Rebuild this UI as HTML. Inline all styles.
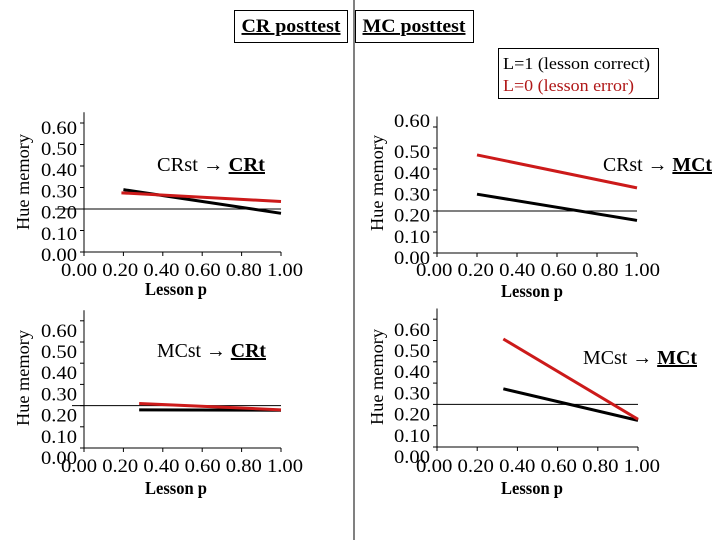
<!DOCTYPE html>
<html><head><meta charset="utf-8"><style>
html,body{margin:0;padding:0;background:#fff;}
svg{display:block;font-family:"Liberation Serif",serif;}
</style></head><body>
<svg id="chart" width="720" height="540" viewBox="0 0 720 540">
  <line x1="354" y1="0" x2="354" y2="540" stroke="#000" stroke-width="1"/>
  <g>
    <rect x="234.5" y="10.5" width="113" height="32" fill="#fff" stroke="#000"/>
    <text x="291" y="32" text-anchor="middle" font-size="19" font-weight="bold" text-decoration="underline" textLength="99" lengthAdjust="spacingAndGlyphs">CR posttest</text>
  </g>
  <g>
    <rect x="355.5" y="10.5" width="118" height="32" fill="#fff" stroke="#000"/>
    <text x="414" y="32" text-anchor="middle" font-size="19" font-weight="bold" text-decoration="underline" textLength="103" lengthAdjust="spacingAndGlyphs">MC posttest</text>
  </g>
  <g>
    <rect x="498.5" y="48.5" width="160" height="50" fill="#fff" stroke="#000"/>
    <text x="503" y="69" font-size="17" fill="#000" textLength="147" lengthAdjust="spacingAndGlyphs">L=1 (lesson correct)</text>
    <text x="503" y="91" font-size="17" fill="#b01818" textLength="131" lengthAdjust="spacingAndGlyphs">L=0 (lesson error)</text>
  </g>
  <g id="panels"></g>
</svg>
<script>
const yTickLabels = ["0.00","0.10","0.20","0.30","0.40","0.50","0.60"];
const xTickLabels = ["0.00","0.20","0.40","0.60","0.80","1.00"];
const refValue = 0.2;
// panel: CRst -> CRt
const tlBlackP = [0.20, 1.00];
const tlBlackV = [0.29, 0.18];
const tlRedP = [0.19, 1.00];
const tlRedV = [0.275, 0.235];
// panel: CRst -> MCt
const trBlackP = [0.20, 1.00];
const trBlackV = [0.28, 0.155];
const trRedP = [0.20, 1.00];
const trRedV = [0.467, 0.31];
// panel: MCst -> CRt
const blBlackP = [0.28, 1.00];
const blBlackV = [0.18, 0.178];
const blRedP = [0.28, 1.00];
const blRedV = [0.21, 0.18];
// panel: MCst -> MCt
const brBlackP = [0.33, 1.00];
const brBlackV = [0.273, 0.125];
const brRedP = [0.33, 1.00];
const brRedV = [0.507, 0.13];

const NS = "http://www.w3.org/2000/svg";
const root = document.getElementById("panels");
function mk(tag, attrs, parent) {
  const e = document.createElementNS(NS, tag);
  for (const k in attrs) e.setAttribute(k, attrs[k]);
  parent.appendChild(e);
  return e;
}
const panels = [
  {id:"cr-to-cr", x0:84, x1:281, y0:252, s:215, lblY0:255, lblStep:21.2, axL:77, hueX:27, titleMain:"CRst → ", titleU:"CRt", tx:157, ty:171, tw:108, xl:61, xr:303, xly:276, lpy:295, hx:55, bp:tlBlackP, bv:tlBlackV, rp:tlRedP, rv:tlRedV},
  {id:"cr-to-mc", x0:437, x1:637, y0:253, s:210, lblY0:258, lblStep:21.2, axL:430, hueX:381, titleMain:"CRst → ", titleU:"MCt", tx:603, ty:171, tw:109, xl:416, xr:660, xly:276, lpy:297, hx:437, bp:trBlackP, bv:trBlackV, rp:trRedP, rv:trRedV, top:121},
  {id:"mc-to-cr", x0:84, x1:281, y0:448, s:212, lblY0:458, lblStep:21.2, axL:77, hueX:27, titleMain:"MCst → ", titleU:"CRt", tx:157, ty:357, tw:109, xl:61, xr:303, xly:472, lpy:494, hx:72, bp:blBlackP, bv:blBlackV, rp:blRedP, rv:blRedV},
  {id:"mc-to-mc", x0:437, x1:638, y0:447, s:213, lblY0:457, lblStep:21.2, axL:430, hueX:381, titleMain:"MCst → ", titleU:"MCt", tx:583, ty:364, tw:114, xl:416, xr:660, xly:472, lpy:494, hx:437, bp:brBlackP, bv:brBlackV, rp:brRedP, rv:brRedV}
];
panels.forEach(p => {
  const g = mk("g", {}, root);
  
  
  const X = v => p.x0 + v * (p.x1 - p.x0);
  const Y = v => p.y0 - v * p.s;
  const ya = mk("line", {x1:p.x0, y1:Y(0.65), x2:p.x0, y2:p.y0, stroke:"#000", "stroke-width":1}, g);
  
  
  const xa = mk("line", {x1:p.x0, y1:p.y0, x2:p.x1, y2:p.y0, stroke:"#000", "stroke-width":1}, g);
  
  
  xTickLabels.forEach((t, i) => {
    const xx = X(i / (xTickLabels.length - 1));
    const tk = mk("line", {x1:xx, y1:p.y0, x2:xx, y2:p.y0 + 4, stroke:"#000"}, g);
    
    
  });
  yTickLabels.forEach((t, i) => {
    const yy = (p.top && i === 6) ? p.top : p.lblY0 - i * p.lblStep;
    const tx = mk("text", {x:p.axL, y:yy + 6, "text-anchor":"end", "font-size":19, textLength:36, lengthAdjust:"spacingAndGlyphs"}, g);
    tx.textContent = t;
    
    
    const tk = mk("line", {x1:p.x0 - 4, y1:Y(parseFloat(t)), x2:p.x0, y2:Y(parseFloat(t)), stroke:"#000"}, g);
    
    
  });
  const xt = mk("text", {x:p.xl, y:p.xly, "font-size":19, textLength:p.xr - p.xl, lengthAdjust:"spacingAndGlyphs"}, g);
  xt.textContent = xTickLabels.join(" ");
  
  
  const xlab = mk("text", {x:(p.xl + p.xr) / 2 - 6, y:p.lpy, "text-anchor":"middle", "font-size":18, "font-weight":"bold", textLength:62, lengthAdjust:"spacingAndGlyphs"}, g);
  xlab.textContent = "Lesson p";
  
  
  const yc = p.y0 - 70;
  const ylab = mk("text", {x:p.hueX + 2, y:yc, "text-anchor":"middle", "font-size":18, textLength:96, lengthAdjust:"spacingAndGlyphs", transform:"rotate(-90 " + (p.hueX + 2) + " " + yc + ")"}, g);
  ylab.textContent = "Hue memory";
  
  
  const rl = mk("line", {x1:p.hx, y1:Y(refValue), x2:p.x1, y2:Y(refValue), stroke:"#000", "stroke-width":1}, g);
  
  
  const tt = mk("text", {x:p.tx, y:p.ty, "font-size":20, textLength:p.tw, lengthAdjust:"spacingAndGlyphs"}, g);
  
  
  const t1 = mk("tspan", {}, tt); t1.textContent = p.titleMain;
  const t2 = mk("tspan", {"font-weight":"bold", "text-decoration":"underline"}, tt); t2.textContent = p.titleU;
  const bl = mk("line", {x1:X(p.bp[0]), y1:Y(p.bv[0]), x2:X(p.bp[1]), y2:Y(p.bv[1]), stroke:"#000", "stroke-width":3}, g);
  
  
  const rd = mk("line", {x1:X(p.rp[0]), y1:Y(p.rv[0]), x2:X(p.rp[1]), y2:Y(p.rv[1]), stroke:"#cc1a1a", "stroke-width":3}, g);
  
  
});
</script>
</body></html>
